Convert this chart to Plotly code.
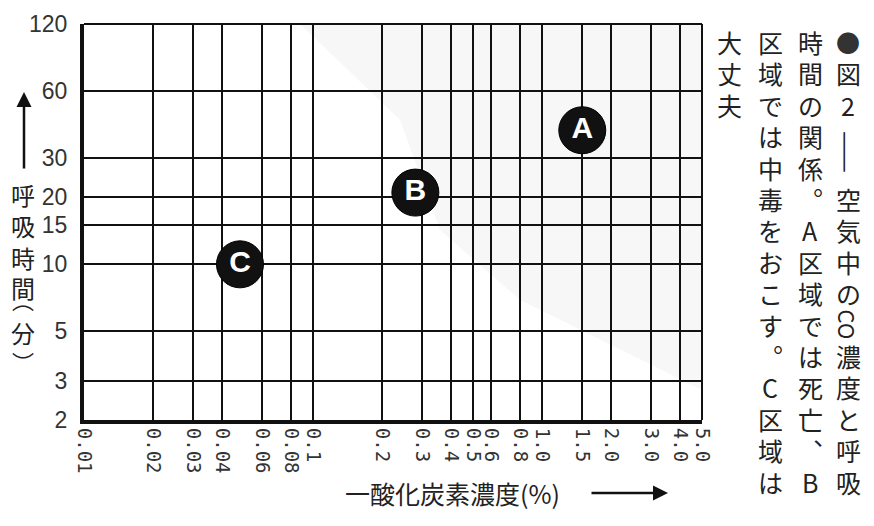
import plotly.graph_objects as go
import math

# ---------------- data ----------------
x_ticks = [0.01, 0.02, 0.03, 0.04, 0.06, 0.08, 0.1, 0.2, 0.3, 0.4, 0.5, 0.6, 0.8,
           1.0, 1.5, 2.0, 3.0, 4.0, 5.0]
x_tick_labels = ["0.01", "0.02", "0.03", "0.04", "0.06", "0.08", "0.1", "0.2", "0.3",
                 "0.4", "0.5", "0.6", "0.8", "1.0", "1.5", "2.0", "3.0", "4.0", "5.0"]
y_ticks = [2, 3, 5, 10, 15, 20, 30, 60, 120]
y_tick_labels = ["2", "3", "5", "10", "15", "20", "30", "60", "120"]

zone_names = ["A", "B", "C"]
zone_conc = [1.5, 0.28, 0.048]      # CO concentration (%)
zone_time = [40, 21, 10]            # breathing time (min)

x_title = "一酸化炭素濃度(%)"
y_title_chars = ["呼", "吸", "時", "間", "(", "分", ")"]
caption_cols = [
    ["●", "図", "2", "——", "", "空", "気", "中", "の", "CO", "濃", "度", "と", "呼", "吸"],
    ["時", "間", "の", "関", "係", "︒", "A", "区", "域", "で", "は", "死", "亡", "︑", "B"],
    ["区", "域", "で", "は", "中", "毒", "を", "お", "こ", "す", "︒", "C", "区", "域", "は"],
    ["大", "丈", "夫"],
]

# ---------------- layout geometry ----------------
W, H = 874, 526
L, R, T, B = 84, 702, 24, 420
CJK = "Noto Sans CJK JP"


def px(xp):
    return (xp - L) / (R - L)


def py(yp):
    return (B - yp) / (B - T)


fig = go.Figure()

fig.add_trace(go.Scatter(
    x=zone_conc, y=zone_time, text=zone_names,
    mode="markers+text",
    marker=dict(size=47, color="#111111", line=dict(color="#000000", width=1)),
    textposition="middle center",
    textfont=dict(family="Liberation Sans", size=30, color="white", weight="bold"),
    hoverinfo="skip", showlegend=False, cliponaxis=False,
))

shapes = []
# very light stipple-like shading in upper right
shapes.append(dict(type="path", xref="paper", yref="paper", layer="below",
                   path=f"M {px(300)} 1 L 1 1 L 1 {py(390)} L {px(520)} {py(300)} L {px(440)} {py(230)} L {px(400)} {py(120)} Z",
                   fillcolor="rgba(0,0,0,0.03)", line=dict(width=0)))
# top and right borders (thin)
shapes.append(dict(type="line", xref="paper", yref="paper", x0=0, x1=1, y0=1, y1=1,
                   line=dict(color="#111", width=2)))
shapes.append(dict(type="line", xref="paper", yref="paper", x0=1, x1=1, y0=0, y1=1,
                   line=dict(color="#111", width=2)))

annotations = []
# y-axis title: arrow + vertical chars
annotations.append(dict(xref="paper", yref="paper", x=px(24), y=py(92), ax=0, ay=78,
                        text="", showarrow=True, arrowhead=2, arrowsize=1.2,
                        arrowwidth=2.5, arrowcolor="#111"))
y_pos = [195, 225, 257, 287, 314, 332, 350]
for ch, yy in zip(y_title_chars, y_pos):
    kw = {}
    size = 24
    text = ch
    if ch == "(":
        text = "⌒"
        size = 22
    elif ch == ")":
        text = "⌒"
        kw["textangle"] = 180
        size = 22
    annotations.append(dict(xref="paper", yref="paper", x=px(23), y=py(yy),
                            text=text, showarrow=False, xanchor="center", yanchor="middle",
                            font=dict(family=CJK, size=size, color="#222"), **kw))
# x-axis title + arrow
annotations.append(dict(xref="paper", yref="paper", x=px(452), y=py(493),
                        text=x_title, showarrow=False, xanchor="center", yanchor="middle",
                        font=dict(family=CJK, size=25, color="#222")))
annotations.append(dict(xref="paper", yref="paper", x=px(668), y=py(493), ax=-78, ay=0,
                        text="", showarrow=True, arrowhead=2, arrowsize=1.2,
                        arrowwidth=2.5, arrowcolor="#111"))
# caption vertical columns
col_x = [848, 810, 770, 730]
pitch = 31.4
for cx, chars in zip(col_x, caption_cols):
    for i, ch in enumerate(chars):
        if not ch:
            continue
        yy = 42 + i * pitch
        kw = {}
        size = 25
        color = "#222"
        if ch == "CO":
            kw["textangle"] = 90
            size = 22
        if ch == "——":
            kw["textangle"] = 90
            yy += pitch / 2
        if ch == "●":
            color = "#333"
            size = 24
        annotations.append(dict(xref="paper", yref="paper", x=px(cx), y=py(yy),
                                text=ch, showarrow=False, xanchor="center", yanchor="middle",
                                font=dict(family=CJK, size=size, color=color), **kw))

fig.update_layout(
    width=W, height=H,
    margin=dict(l=L, r=W - R, t=T, b=H - B),
    paper_bgcolor="white", plot_bgcolor="white",
    shapes=shapes, annotations=annotations,
    showlegend=False,
    xaxis=dict(type="log", range=[math.log10(0.01), math.log10(5.0)],
               tickvals=x_ticks, ticktext=x_tick_labels, tickangle=90,
               tickfont=dict(family="DejaVu Sans Mono", size=19, color="#333"),
               showgrid=True, gridcolor="#111", gridwidth=2,
               showline=True, linecolor="#111", linewidth=4,
               ticks="", ticklen=0, zeroline=False, fixedrange=True),
    yaxis=dict(type="log", range=[math.log10(2), math.log10(120)],
               tickvals=y_ticks, ticktext=y_tick_labels,
               tickfont=dict(family="Liberation Sans", size=23, color="#333"),
               showgrid=True, gridcolor="#111", gridwidth=2,
               showline=True, linecolor="#111", linewidth=4,
               ticks="outside", ticklen=8, tickcolor="rgba(0,0,0,0)",
               zeroline=False, fixedrange=True),
)

fig.write_html("out.html", config={"displayModeBar": False},
               post_script="document.body.style.margin='0';document.body.style.overflow='hidden';")
